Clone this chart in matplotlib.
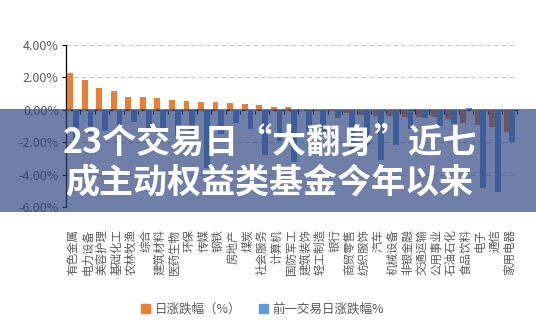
import numpy as np
import matplotlib
matplotlib.use('Agg')
import matplotlib.pyplot as plt
from matplotlib.patches import Patch, Rectangle
from matplotlib.ticker import FuncFormatter, NullFormatter

plt.rcParams['font.family'] = ['Noto Sans CJK SC', 'DejaVu Sans']

# data (% change)
industries = ['有色金属', '电力设备', '美容护理', '基础化工', '农林牧渔', '综合', '建筑材料',
              '医药生物', '环保', '传媒', '钢铁', '房地产', '煤炭', '社会服务', '计算机',
              '国防军工', '建筑装饰', '轻工制造', '银行', '商贸零售', '纺织服饰', '汽车',
              '机械设备', '非银金融', '交通运输', '公用事业', '石油石化', '食品饮料', '电子',
              '通信', '家用电器']
day_chg = [2.30, 1.87, 1.36, 1.19, 0.80, 0.80, 0.74, 0.62, 0.56, 0.49, 0.49, 0.43, 0.37,
           0.27, 0.19, 0.19, 0.02, -0.08, -0.10, -0.20, -0.30, -0.38, -0.40, -0.42, -0.42,
           -0.45, -0.55, -0.80, -0.92, -1.05, -1.35]
prev_chg = [-1.9, -1.5, -1.3, -1.0, -0.75, -1.2, -1.4, -1.6, -1.5, -3.6, -1.5, -0.8, -1.2,
            -2.8, -1.9, -3.2, -1.3, -1.4, -0.5, -2.6, -2.2, -3.1, -2.2, -1.2, -0.5, -1.0,
            -0.9, 0.1, -4.8, -5.1, -2.0]
series_names = ['日涨跌幅（%）', '前一交易日涨跌幅%']
title_lines = ['23个交易日“大翻身”近七', '成主动权益类基金今年以来']

orange = '#ED7D31'
blue = '#5B9BD5'
grey = '#595959'

fig = plt.figure(figsize=(5.36, 3.22), dpi=100)
ax = fig.add_axes([0.1226, 0.357, 0.8414, 0.503])

x = np.arange(len(industries))
w = 0.4
ax.bar(x - w/2, day_chg, w, color=orange, zorder=3)
ax.bar(x + w/2, prev_chg, w, color=blue, zorder=3)

ax.set_xlim(-0.5, len(industries) - 0.5)
ax.set_ylim(-6, 4)
ax.set_yticks([4, 2, 0, -2, -4, -6])
ax.yaxis.set_major_formatter(FuncFormatter(lambda v, p: '%.2f%%' % v))
ax.tick_params(axis='y', length=3, width=0.8, labelsize=9, labelcolor=grey, pad=2)
ax.grid(axis='y', color='#c4c4c4', ls=(0, (4, 3)), lw=0.8, zorder=1)

for s in ['top', 'right', 'bottom']:
    ax.spines[s].set_visible(False)
ax.spines['left'].set_linewidth(0.9)

ax.set_xticks(x)
ax.set_xticklabels(industries, rotation=90, va='top', ha='center', fontsize=8.3, color=grey)
ax.tick_params(axis='x', length=0, pad=16)

# category axis sits at zero, ticks pointing up
zero_ax = ax.secondary_xaxis(0.6)
zero_ax.set_xticks(np.arange(len(industries) + 1) - 0.5)
zero_ax.xaxis.set_major_formatter(NullFormatter())
zero_ax.tick_params(axis='x', direction='in', length=3, width=0.8,
                    labelbottom=False, labeltop=False)
zero_ax.spines['bottom'].set_linewidth(0.9)

handles = [Patch(color=orange), Patch(color=blue)]
leg = fig.legend(handles, series_names, loc='center', bbox_to_anchor=(0.49, 0.04), ncol=2,
                 frameon=False, fontsize=9, handlelength=0.7, handleheight=0.7,
                 handletextpad=0.4, columnspacing=1.4)
for t in leg.get_texts():
    t.set_color(grey)

# banner over the chart
fig.patches.append(Rectangle((0, 0.3416), 1, 0.3214, transform=fig.transFigure,
                             facecolor='#2c427f', alpha=0.68, edgecolor='none', zorder=10))
fig.text(0.1175, 0.559, title_lines[0], color='white', fontsize=24.5, fontweight='bold',
         ha='left', va='center', zorder=11)
fig.text(0.121, 0.433, title_lines[1], color='white', fontsize=24.5, fontweight='bold',
         ha='left', va='center', zorder=11)

fig.savefig('out.png', dpi=100)
